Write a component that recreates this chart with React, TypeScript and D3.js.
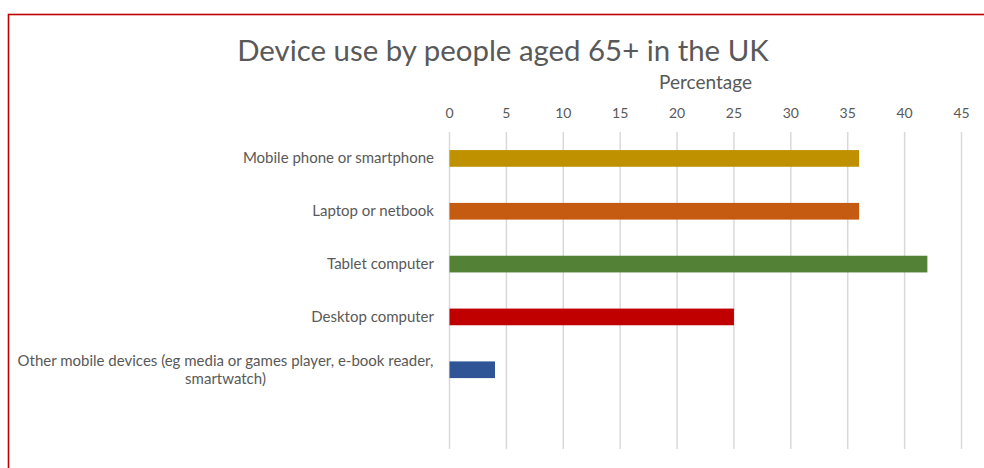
import React from "react";
import * as d3 from "d3";

const categories: string[][] = [
  ["Mobile phone or smartphone"],
  ["Laptop or netbook"],
  ["Tablet computer"],
  ["Desktop computer"],
  ["Other mobile devices (eg media or games player, e-book reader,", "smartwatch)"],
  [""],
];
const values: (number | null)[] = [36, 36, 42, 25, 4, null];
const colors: string[] = ["#BF9000", "#C55A11", "#538135", "#C00000", "#2F5597", "#000000"];
const ticks: number[] = [0, 5, 10, 15, 20, 25, 30, 35, 40, 45];
const title = "Device use by people aged 65+ in the UK";
const axisTitle = "Percentage";

const W = 984;
const H = 468;
const FONT = "Lato, 'Liberation Sans', Arial, sans-serif";

export default function App() {
  const plot = { left: 449.5, right: 961.5, top: 132, bottom: 449 };
  const x = d3.scaleLinear().domain([0, 45]).range([plot.left, plot.right]);
  const y = d3
    .scaleBand<number>()
    .domain(categories.map((_, i) => i))
    .range([plot.top, plot.bottom])
    .paddingInner(0.684)
    .paddingOuter(0.342);

  return (
    <svg
      width={W}
      height={H}
      style={{ position: "fixed", left: 0, top: 0, display: "block", background: "#fff" }}
    >
      <rect x={0} y={0} width={W} height={H} fill="#fff" />
      <rect x={8.5} y={14.5} width={W + 20} height={H + 20} fill="none" stroke="#C00000" strokeWidth={1.6} />
      <text x={503} y={61} textAnchor="middle" fontFamily={FONT} fontSize={29.4} fill="#595959">
        {title}
      </text>
      <text x={705.5} y={89} textAnchor="middle" fontFamily={FONT} fontSize={19} fill="#595959">
        {axisTitle}
      </text>
      {ticks.map((t) => (
        <g key={t}>
          <line x1={x(t)} x2={x(t)} y1={plot.top} y2={plot.bottom} stroke="#D9D9D9" strokeWidth={1.5} />
          <text x={x(t)} y={118} textAnchor="middle" fontFamily={FONT} fontSize={14} fill="#595959">
            {t}
          </text>
        </g>
      ))}
      {values.map((v, i) =>
        v == null ? null : (
          <rect
            key={i}
            x={x(0)}
            y={y(i)!}
            width={x(v) - x(0)}
            height={y.bandwidth()}
            fill={colors[i]}
          />
        )
      )}
      {categories.map((lines, i) => {
        const cy = y(i)! + y.bandwidth() / 2;
        const lh = 18;
        const widest = 417;
        return (
          <g key={i}>
            {lines.map((ln, j) => {
              const yy = cy + (j - (lines.length - 1) / 2) * lh + 5;
              const multi = lines.length > 1;
              return (
                <text
                  key={j}
                  x={multi ? 434 - widest / 2 : 434}
                  y={yy}
                  textAnchor={multi ? "middle" : "end"}
                  fontFamily={FONT}
                  fontSize={15}
                  fill="#595959"
                >
                  {ln}
                </text>
              );
            })}
          </g>
        );
      })}
    </svg>
  );
}
